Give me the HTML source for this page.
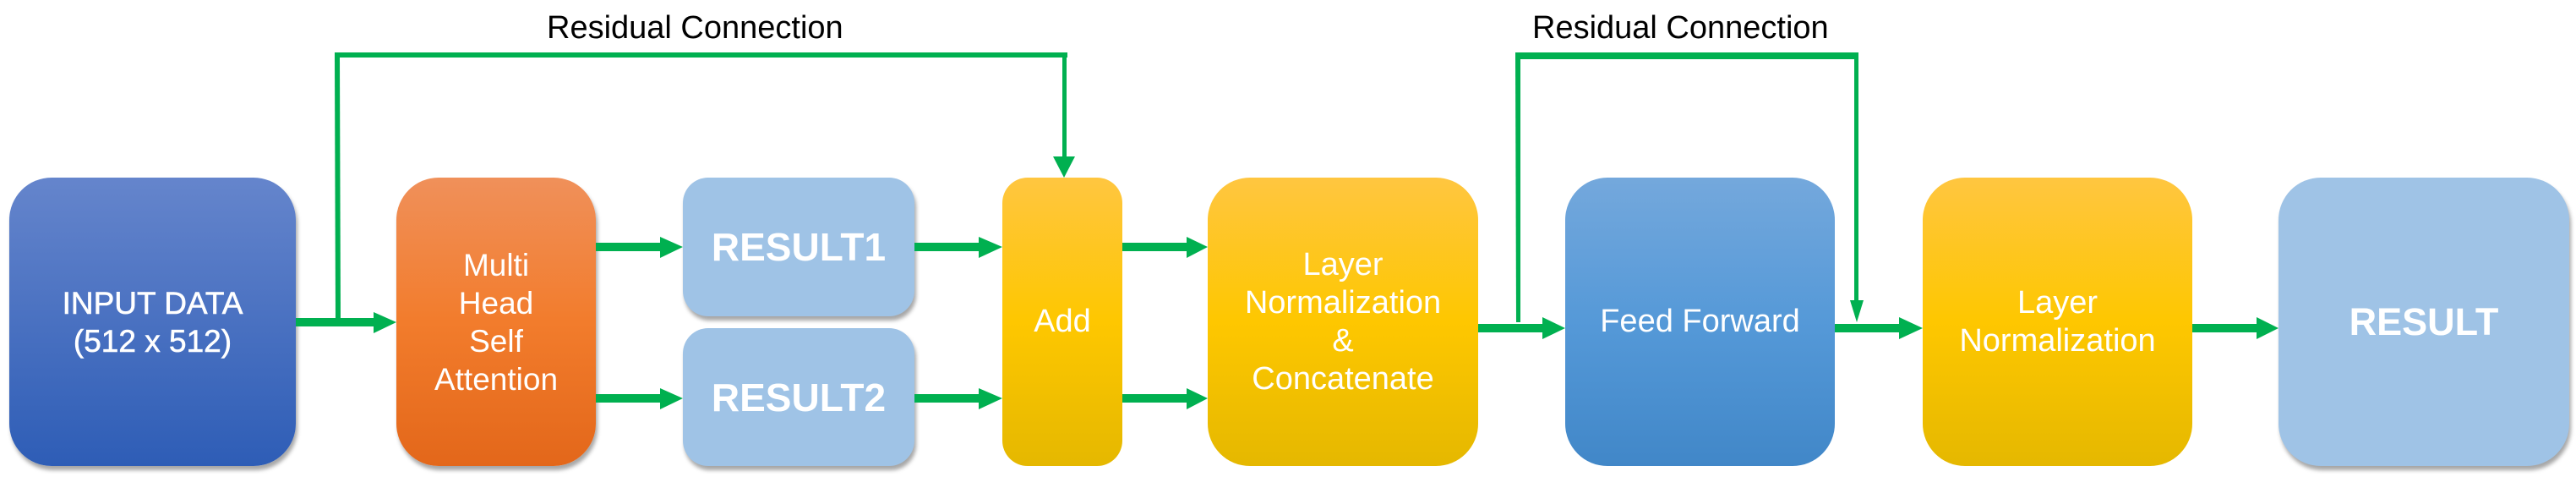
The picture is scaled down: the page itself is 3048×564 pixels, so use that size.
<!DOCTYPE html>
<html><head><meta charset="utf-8"><style>
body{margin:0;width:3048px;height:564px;background:#fff;overflow:hidden;position:relative;font-family:"Liberation Sans","Noto Sans CJK KR",sans-serif;}
.b{position:absolute;border-radius:50px;color:#fff;display:flex;align-items:center;justify-content:center;text-align:center;box-shadow:2px 5px 5px rgba(0,0,0,0.35);}
.blue{background:linear-gradient(#6585cc,#2e5db6);}
.org{background:linear-gradient(#f0905a,#f27c2c 50%,#e3671a);}
.lt{background:#9fc3e6;}
.yel{background:linear-gradient(#ffc640,#fec700 50%,#e5b800);}
.ff{background:linear-gradient(#74a8dc,#5599d8 50%,#4187c8);}
.lbl{position:absolute;font-size:38px;color:#000;}
</style></head><body>
<div class="b blue" style="left:11px;top:210px;width:339px;height:341px;font-size:37px;line-height:45px;-webkit-text-stroke:0.6px #fff;">INPUT DATA<br>(512 x 512)</div>
<div class="b org" style="left:469px;top:210px;width:236px;height:341px;font-size:37px;line-height:45px;">Multi<br>Head<br>Self<br>Attention</div>
<div class="b lt" style="left:808px;top:210px;width:274px;height:164px;border-radius:30px;font-size:46px;font-weight:bold;">RESULT1</div>
<div class="b lt" style="left:808px;top:388px;width:274px;height:163px;border-radius:30px;font-size:46px;font-weight:bold;">RESULT2</div>
<div class="b yel" style="left:1186px;top:210px;width:142px;height:341px;border-radius:30px;font-size:38px;box-shadow:none;">Add</div>
<div class="b yel" style="left:1429px;top:210px;width:320px;height:341px;font-size:38px;line-height:45px;box-shadow:none;">Layer<br>Normalization<br>&amp;<br>Concatenate</div>
<div class="b ff" style="left:1852px;top:210px;width:319px;height:341px;font-size:38px;box-shadow:none;">Feed Forward</div>
<div class="b yel" style="left:2275px;top:210px;width:319px;height:341px;font-size:38px;line-height:45px;box-shadow:none;">Layer<br>Normalization</div>
<div class="b lt" style="left:2696px;top:210px;width:344px;height:341px;font-size:45px;font-weight:bold;">RESULT</div>
<div class="lbl" style="left:647px;top:12px;">Residual Connection</div>
<div class="lbl" style="left:1813px;top:12px;">Residual Connection</div>
<svg style="position:absolute;left:0;top:0" width="3048" height="564">
<g fill="#00b050" stroke="none">
<rect x="350" y="376" width="94" height="10"/><polygon points="442,369 469,381 442,394"/>
<polygon points="396,68 402,68 403,381 397,381"/>
<rect x="396" y="62" width="867" height="6"/>
<rect x="1257" y="62" width="5" height="125"/><polygon points="1246,185 1272,185 1259,210"/>
<rect x="705" y="287" width="78" height="10"/><polygon points="781,280 808,292 781,305"/>
<rect x="705" y="466" width="78" height="10"/><polygon points="781,459 808,471 781,484"/>
<rect x="1082" y="287" width="78" height="10"/><polygon points="1158,280 1186,292 1158,305"/>
<rect x="1082" y="466" width="78" height="10"/><polygon points="1158,459 1186,471 1158,484"/>
<rect x="1328" y="287" width="78" height="10"/><polygon points="1404,280 1429,292 1404,305"/>
<rect x="1328" y="466" width="78" height="10"/><polygon points="1404,459 1429,471 1404,484"/>
<rect x="1749" y="383" width="78" height="10"/><polygon points="1825,375 1852,388 1825,401"/>
<rect x="2171" y="383" width="78" height="10"/><polygon points="2247,375 2275,388 2247,401"/>
<rect x="2594" y="383" width="78" height="10"/><polygon points="2670,375 2696,388 2670,401"/>
<rect x="1793" y="62" width="406" height="8"/>
<polygon points="1793,66 1799,66 1799,381 1794,381"/>
<rect x="2194" y="66" width="5" height="292"/><polygon points="2189,355 2205,355 2197,381"/>
</g></svg>
</body></html>
